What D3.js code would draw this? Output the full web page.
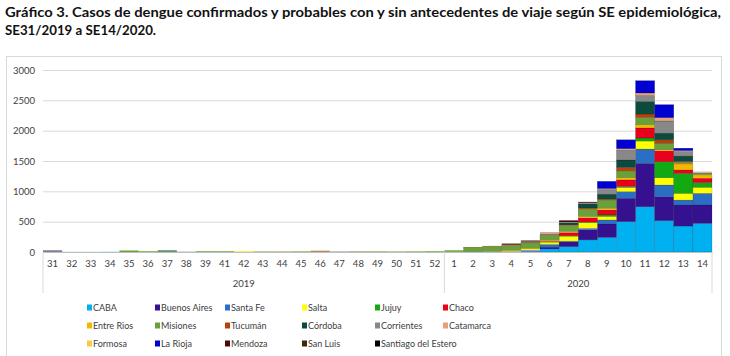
<!DOCTYPE html>
<html><head><meta charset="utf-8">
<script src="https://cdn.jsdelivr.net/npm/d3@7"></script>
<style>
body{margin:0;background:#fff;}
svg{display:block;}
text{font-family:Lato, "Open Sans", sans-serif;}
</style></head>
<body><svg id="c" width="730" height="356"></svg>
<script>
// ---- data ----
const weeks = ["31","32","33","34","35","36","37","38","39","41","42","43","44","45","46","47","48","49","50","51","52",
               "1","2","3","4","5","6","7","8","9","10","11","12","13","14"];
const yearGroups = [{label:"2019", from:0, to:20},{label:"2020", from:21, to:34}];
const yTicks = [0,500,1000,1500,2000,2500,3000];
const seriesNames = ["CABA","Buenos Aires","Santa Fe","Salta","Jujuy","Chaco","Entre Rios","Misiones","Tucumán","Córdoba","Corrientes","Catamarca","Formosa","La Rioja","Mendoza","San Luis","Santiago del Estero"];
const seriesColors = ["#00B0F0","#35118F","#2B6FC4","#FFFF00","#12A912","#E8001C","#F2B800","#6AA03A","#B8400A","#0D4A3E","#888888","#E8A07A","#F5CC40","#0000D0","#4A0A0A","#3A2A0A","#000000"];
const z19 = n => Array(n).fill(0);
const CABA      = [0,2,2,3,0,0,0,0,0,0,0,0,0,0,0,0,0,0,0,0,0,   3,3,3,5,10,50,88,200,242,500,746,516,428,473];
const BuenosAires=[10,0,0,0,0,0,0,0,0,0,0,0,0,0,0,0,0,0,0,0,0,  0,2,2,5,10,30,82,170,220,385,715,396,346,302];
const SantaFe   = [0,0,0,0,0,0,0,0,0,0,0,0,0,0,0,0,0,0,0,0,0,   0,0,0,0,10,45,10,20,66,110,236,192,82,192];
const Salta     = [0,0,0,0,0,3,0,0,0,0,10,0,0,0,0,0,0,0,0,0,0,  0,0,0,5,15,35,77,93,55,66,132,120,110,99];
const Jujuy     = [0,0,0,0,0,0,0,0,5,0,0,0,0,0,0,0,0,0,0,0,0,   0,0,0,0,0,10,10,10,27,16,50,264,330,77];
const Chaco     = [0,0,0,0,0,0,0,0,0,0,0,0,0,0,0,0,0,0,0,0,0,   0,0,0,0,0,10,55,71,82,110,165,181,55,72];
const EntreRios = [0,0,0,0,0,0,0,0,0,0,0,0,0,0,0,0,0,0,0,0,0,   0,0,5,15,15,15,15,20,27,40,55,15,100,55];
const Misiones  = [0,0,0,0,25,12,10,0,10,12,0,8,8,10,10,0,8,10,8,10,12, 25,75,85,80,90,80,99,126,137,110,120,110,20,15];
const Tucuman   = [0,0,0,0,0,0,0,0,0,0,0,0,0,0,10,0,0,0,0,0,0,  0,2,5,10,10,10,10,15,15,55,55,55,20,5];
const Cordoba   = [0,0,0,0,0,0,15,0,0,0,0,0,0,0,0,0,0,0,0,0,0,  0,0,0,0,5,10,38,66,82,125,208,110,90,10];
const Corrientes= [20,0,0,0,0,0,0,5,0,0,0,0,0,0,0,8,4,0,0,0,0,  0,0,0,0,0,0,10,20,82,165,99,200,80,10];
const Catamarca = [0,0,0,0,0,0,0,0,0,0,0,0,0,0,0,0,0,0,0,0,0,   0,0,0,0,5,20,0,0,10,20,40,55,10,15];
const Formosa   = [0,0,0,0,0,0,0,0,0,0,5,0,0,0,0,0,0,0,0,0,0,   0,0,0,0,0,0,0,0,0,0,0,0,0,0];
const LaRioja   = [0,0,0,0,0,0,0,0,0,0,0,0,0,0,0,0,0,0,0,0,0,   0,0,0,0,0,0,0,0,120,148,203,215,40,0];
const Mendoza   = [0,0,0,0,0,0,0,0,0,0,0,0,0,0,0,0,0,0,0,0,0,   0,0,0,15,10,5,27,15,0,0,0,0,0,0];
const SanLuis   = [0,0,0,0,0,0,0,0,0,0,0,0,0,0,0,0,0,0,0,0,0,   0,0,0,5,5,0,0,0,0,0,0,0,0,0];
const SantiagoDelEstero=[0,0,0,0,0,0,0,0,0,0,0,0,0,0,0,0,0,0,0,0,0, 0,0,0,0,5,0,0,0,0,0,0,0,0,0];
const seriesValues = [CABA,BuenosAires,SantaFe,Salta,Jujuy,Chaco,EntreRios,Misiones,Tucuman,Cordoba,Corrientes,Catamarca,Formosa,LaRioja,Mendoza,SanLuis,SantiagoDelEstero];

// ---- chart ----
const svg = d3.select("#c");
const W = 730, H = 356;
const plot = {left:43, right:712, top:70, bottom:252};

// title
const title = svg.append("g").attr("font-weight","700").attr("font-size","14px").attr("fill","#111");
title.append("text").attr("x",5).attr("y",17)
  .attr("textLength",716).attr("lengthAdjust","spacingAndGlyphs")
  .text("Gráfico 3. Casos de dengue confirmados y probables con y sin antecedentes de viaje según SE epidemiológica,");
title.append("text").attr("x",5).attr("y",35)
  .attr("textLength",151).attr("lengthAdjust","spacingAndGlyphs")
  .text("SE31/2019 a SE14/2020.");

// chart frame
svg.append("rect").attr("x",6.5).attr("y",56.5).attr("width",715).attr("height",310)
  .attr("fill","none").attr("stroke","#d9d9d9");

const x = d3.scaleBand().domain(weeks).range([plot.left, plot.right]).padding(0);
const y = d3.scaleLinear().domain([0,3000]).range([plot.bottom, plot.top]);

// gridlines + y labels
const yAxis = d3.axisLeft(y).tickValues(yTicks).tickSize(-(plot.right-plot.left)).tickPadding(8).tickFormat(d3.format("d"));
const gy = svg.append("g").attr("transform",`translate(${plot.left},0)`).call(yAxis);
gy.select(".domain").remove();
gy.selectAll(".tick line").attr("stroke","#d9d9d9");
gy.selectAll(".tick text").attr("fill","#404040").attr("font-size","9.5px").attr("font-family","Lato, sans-serif");

// stacked bars
const table = weeks.map((w,i)=>{const o={week:w}; seriesNames.forEach((s,k)=>o[s]=seriesValues[k][i]); return o;});
const stack = d3.stack().keys(seriesNames)(table);
const color = d3.scaleOrdinal().domain(seriesNames).range(seriesColors);
svg.append("g").selectAll("g").data(stack).join("g")
  .attr("fill", d=>color(d.key))
  .selectAll("rect").data(d=>d).join("rect")
  .attr("x", d=>x(d.data.week))
  .attr("width", x.bandwidth())
  .attr("y", d=>y(d[1]))
  .attr("height", d=>Math.max(0, y(d[0])-y(d[1])))
  .attr("stroke", d=> (y(d[0])-y(d[1]))>2 ? "rgba(0,0,0,0.35)" : "none")
  .attr("stroke-width",0.4);

// x axis
const xAxis = d3.axisBottom(x).tickSize(0).tickPadding(8);
const gx = svg.append("g").attr("transform",`translate(0,${plot.bottom})`).call(xAxis);
gx.select(".domain").attr("stroke","#bfbfbf");
gx.selectAll(".tick text").attr("fill","#404040").attr("font-size","9.5px").attr("font-family","Lato, sans-serif");

// group separators and year labels
const bounds = [plot.left, x(weeks[yearGroups[1].from]), plot.right];
svg.append("g").selectAll("line").data(bounds).join("line")
  .attr("x1",d=>d).attr("x2",d=>d).attr("y1",plot.bottom).attr("y2",293)
  .attr("stroke","#d9d9d9");
svg.append("g").selectAll("text").data(yearGroups).join("text")
  .attr("x", g => (x(weeks[g.from]) + x(weeks[g.to]) + x.bandwidth())/2)
  .attr("y", 287).attr("text-anchor","middle")
  .attr("fill","#404040").attr("font-size","9.5px").text(g=>g.label);

// legend
const legCols = [87,155,225,302,375,443];
const legRows = [308,326,344];
const lg = svg.append("g");
seriesNames.forEach((s,i)=>{
  const cx = legCols[i%6], cy = legRows[Math.floor(i/6)];
  lg.append("rect").attr("x",cx).attr("y",cy-3.5).attr("width",5).attr("height",6).attr("fill",seriesColors[i]);
  lg.append("text").attr("x",cx+6).attr("y",cy+3).attr("font-size","9px").attr("fill","#404040").text(s);
});
</script></body></html>
